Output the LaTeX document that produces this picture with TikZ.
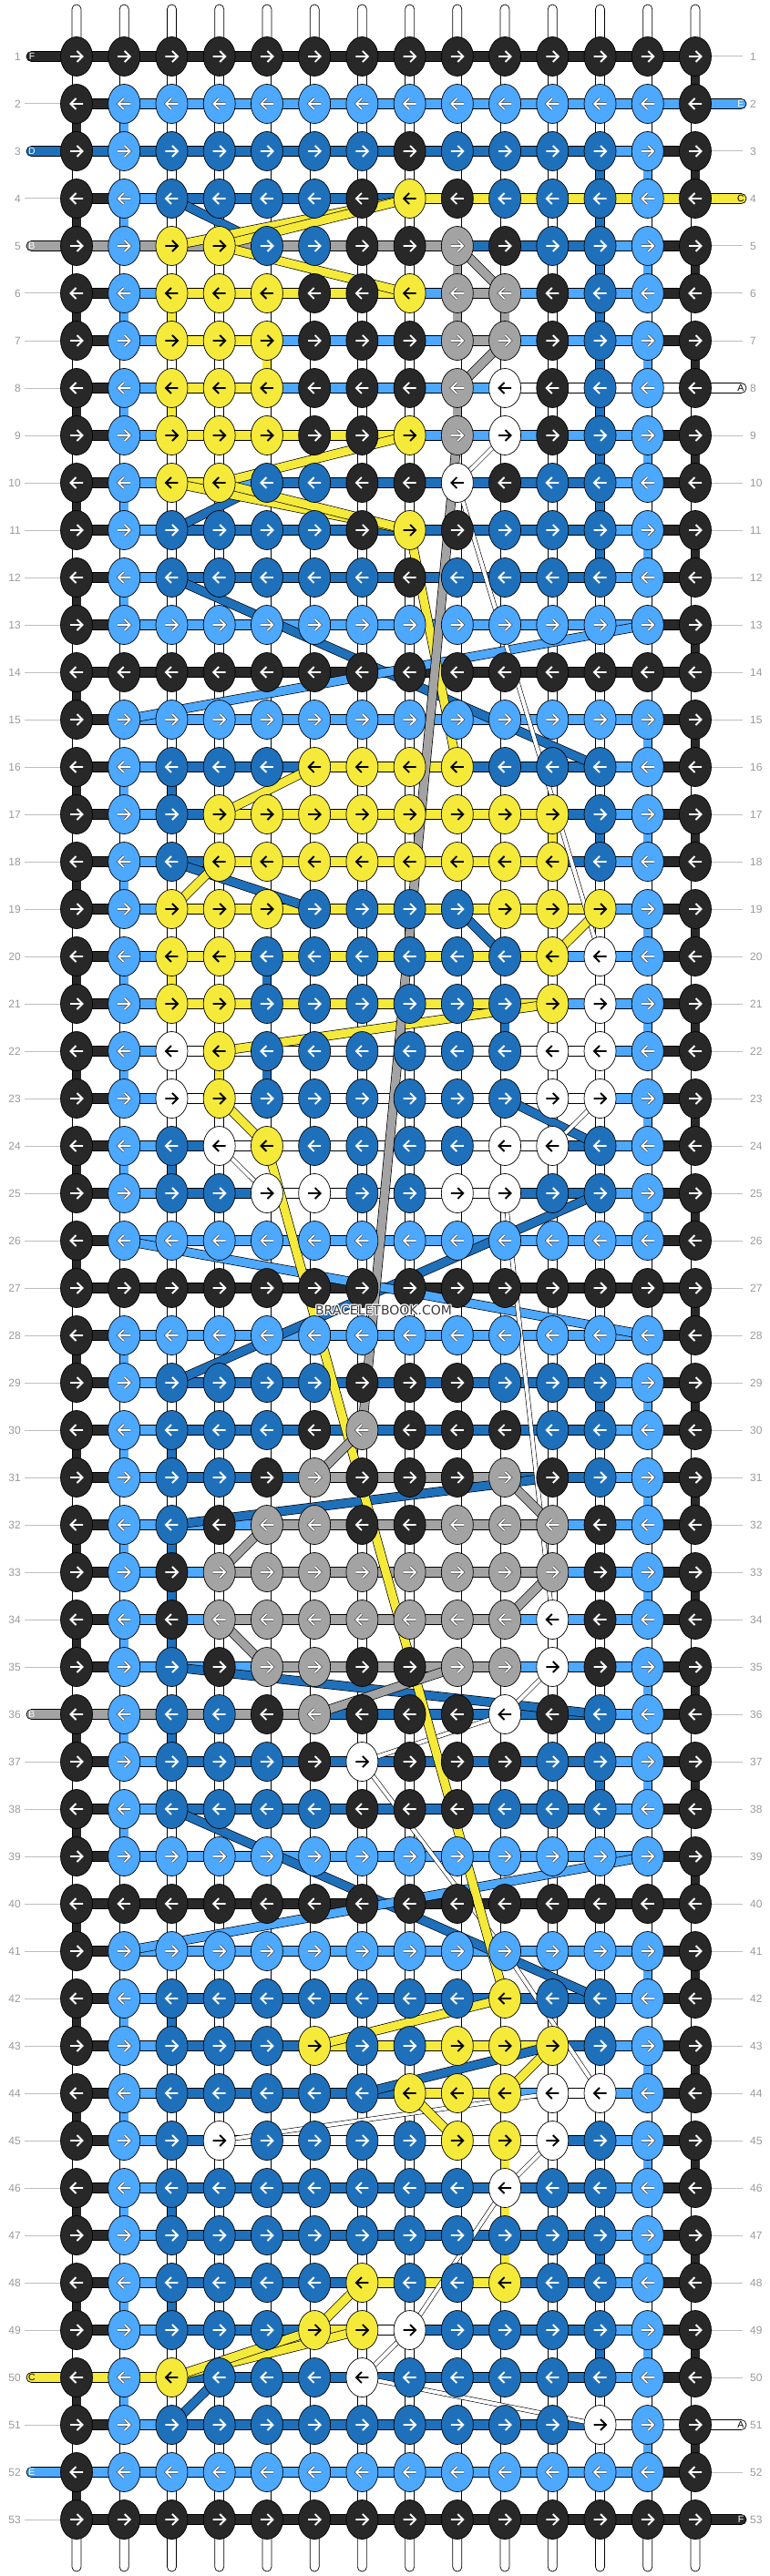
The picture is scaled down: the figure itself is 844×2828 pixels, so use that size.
\documentclass[tikz,border=0pt]{standalone}
\usepackage{fontspec}
\setmainfont{Liberation Sans}
\newfontfamily\wmfont{DejaVu Sans}
\usetikzlibrary{shapes.geometric}
\definecolor{kK}{HTML}{282828}
\definecolor{kL}{HTML}{4DA8FF}
\definecolor{kD}{HTML}{1F70BA}
\definecolor{kY}{HTML}{F5EA3A}
\definecolor{kG}{HTML}{A3A3A3}
\definecolor{kW}{HTML}{FFFFFF}
\definecolor{numgray}{HTML}{9A9A9A}
\definecolor{linegray}{HTML}{BEBEBE}
\definecolor{wmgray}{HTML}{3A3A3A}
\def\rowdata{
1/{K,K,K,K,K,K,K,K,K,K,K,K,K,K}/{K,K,K,K,K,K,K,K,K,K,K,K,K},
2/{K,L,L,L,L,L,L,L,L,L,L,L,L,K}/{K,L,L,L,L,L,L,L,L,L,L,L,L},
3/{K,L,D,D,D,D,D,K,D,D,D,D,L,K}/{D,D,D,D,D,D,D,D,D,D,D,L,K},
4/{K,L,D,D,D,D,K,Y,K,D,D,D,L,K}/{K,L,D,D,D,D,D,Y,Y,Y,Y,Y,Y},
5/{K,L,Y,Y,D,D,K,K,G,K,D,D,L,K}/{G,G,G,G,G,G,G,G,D,D,D,L,K},
6/{K,L,Y,Y,Y,K,K,Y,G,G,K,D,L,K}/{K,L,Y,Y,Y,Y,Y,L,G,L,L,L,K},
7/{K,L,Y,Y,Y,K,K,K,G,G,K,D,L,K}/{K,L,Y,Y,L,L,L,L,G,L,L,L,K},
8/{K,L,Y,Y,Y,K,K,K,G,W,K,D,L,K}/{K,L,Y,Y,L,L,L,L,L,W,W,W,W},
9/{K,L,Y,Y,Y,K,K,Y,G,W,K,D,L,K}/{K,L,Y,Y,Y,Y,Y,L,L,L,L,L,K},
10/{K,L,Y,Y,D,D,K,K,W,K,D,D,L,K}/{K,L,Y,L,D,D,D,D,D,D,D,L,K},
11/{K,L,D,D,D,D,K,Y,K,D,D,D,L,K}/{K,L,D,D,D,D,D,D,D,D,D,L,K},
12/{K,L,D,D,D,D,D,K,D,D,D,D,L,K}/{K,L,D,D,D,D,D,D,D,D,D,L,K},
13/{K,L,L,L,L,L,L,L,L,L,L,L,L,K}/{K,L,L,L,L,L,L,L,L,L,L,L,K},
14/{K,K,K,K,K,K,K,K,K,K,K,K,K,K}/{K,K,K,K,K,K,K,K,K,K,K,K,K},
15/{K,L,L,L,L,L,L,L,L,L,L,L,L,K}/{K,L,L,L,L,L,L,L,L,L,L,L,K},
16/{K,L,D,D,D,Y,Y,Y,Y,D,D,D,L,K}/{K,L,D,D,D,Y,Y,Y,D,D,D,L,K},
17/{K,L,D,Y,Y,Y,Y,Y,Y,Y,Y,D,L,K}/{K,L,D,Y,Y,Y,Y,Y,Y,Y,D,L,K},
18/{K,L,D,Y,Y,Y,Y,Y,Y,Y,Y,D,L,K}/{K,L,D,Y,Y,Y,Y,Y,Y,Y,D,L,K},
19/{K,L,Y,Y,Y,D,D,D,D,Y,Y,Y,L,K}/{K,L,Y,Y,Y,Y,Y,Y,Y,Y,Y,L,K},
20/{K,L,Y,Y,D,D,D,D,D,D,Y,W,L,K}/{K,L,Y,Y,Y,Y,Y,Y,Y,Y,L,L,K},
21/{K,L,Y,Y,D,D,D,D,D,D,Y,W,L,K}/{K,L,Y,Y,Y,Y,Y,Y,Y,Y,L,L,K},
22/{K,L,W,Y,D,D,D,D,D,D,W,W,L,K}/{K,L,W,W,W,W,W,W,W,W,W,L,K},
23/{K,L,W,Y,D,D,D,D,D,D,W,W,L,K}/{K,L,W,W,W,W,W,W,W,W,W,L,K},
24/{K,L,D,W,Y,D,D,D,D,W,W,D,L,K}/{K,L,D,W,W,W,W,W,W,W,D,L,K},
25/{K,L,D,D,W,W,D,D,W,W,D,D,L,K}/{K,L,D,D,W,W,W,W,W,D,D,L,K},
26/{K,L,L,L,L,L,L,L,L,L,L,L,L,K}/{K,L,L,L,L,L,L,L,L,L,L,L,K},
27/{K,K,K,K,K,K,K,K,K,K,K,K,K,K}/{K,K,K,K,K,K,K,K,K,K,K,K,K},
28/{K,L,L,L,L,L,L,L,L,L,L,L,L,K}/{K,L,L,L,L,L,L,L,L,L,L,L,K},
29/{K,L,D,D,D,D,K,K,K,D,D,D,L,K}/{K,L,D,D,D,D,D,D,D,D,D,L,K},
30/{K,L,D,D,D,K,G,K,K,K,D,D,L,K}/{K,L,D,D,D,D,D,D,D,D,D,L,K},
31/{K,L,D,D,K,G,K,K,K,G,K,D,L,K}/{K,L,D,D,D,G,G,G,G,D,D,L,K},
32/{K,L,D,K,G,G,K,K,G,G,G,K,L,K}/{K,L,L,L,G,G,G,G,G,G,L,L,K},
33/{K,L,K,G,G,G,G,G,G,G,G,K,L,K}/{K,L,L,G,G,G,G,G,G,G,L,L,K},
34/{K,L,K,G,G,G,G,G,G,G,W,K,L,K}/{K,L,L,G,G,G,G,G,G,L,L,L,K},
35/{K,L,D,K,G,G,K,K,G,G,W,K,L,K}/{K,L,L,L,G,G,G,G,G,L,L,L,K},
36/{K,L,D,D,K,G,K,K,K,W,K,D,L,K}/{G,G,G,G,G,D,D,D,D,D,D,L,K},
37/{K,L,D,D,D,K,W,K,K,K,D,D,L,K}/{K,L,D,D,D,D,D,D,D,D,D,L,K},
38/{K,L,D,D,D,D,K,K,K,D,D,D,L,K}/{K,L,D,D,D,D,D,D,D,D,D,L,K},
39/{K,L,L,L,L,L,L,L,L,L,L,L,L,K}/{K,L,L,L,L,L,L,L,L,L,L,L,K},
40/{K,K,K,K,K,K,K,K,K,K,K,K,K,K}/{K,K,K,K,K,K,K,K,K,K,K,K,K},
41/{K,L,L,L,L,L,L,L,L,L,L,L,L,K}/{K,L,L,L,L,L,L,L,L,L,L,L,K},
42/{K,L,D,D,D,D,D,D,D,Y,D,D,L,K}/{K,L,D,D,D,D,D,D,D,D,D,L,K},
43/{K,L,D,D,D,Y,D,D,Y,Y,Y,D,L,K}/{K,L,D,D,D,Y,Y,Y,Y,Y,D,L,K},
44/{K,L,D,D,D,D,D,Y,Y,Y,W,W,L,K}/{K,L,D,D,D,D,D,Y,Y,L,W,L,K},
45/{K,L,D,W,D,D,D,D,Y,Y,W,D,L,K}/{K,L,D,W,W,W,W,W,W,W,D,L,K},
46/{K,L,D,D,D,D,D,D,D,W,D,D,L,K}/{K,L,D,D,D,D,D,D,D,D,D,L,K},
47/{K,L,D,D,D,D,D,D,D,D,D,D,L,K}/{K,L,D,D,D,D,D,D,D,D,D,L,K},
48/{K,L,D,D,D,D,Y,D,D,Y,D,D,L,K}/{K,L,D,D,D,D,Y,Y,Y,D,D,L,K},
49/{K,L,D,D,D,Y,Y,W,D,D,D,D,L,K}/{K,L,D,D,D,Y,W,D,D,D,D,L,K},
50/{K,L,Y,D,D,D,W,D,D,D,D,D,L,K}/{Y,Y,D,D,D,D,D,D,D,D,D,L,K},
51/{K,L,D,D,D,D,D,D,D,D,D,W,L,K}/{K,L,D,D,D,D,D,D,D,D,D,W,W},
52/{K,L,L,L,L,L,L,L,L,L,L,L,L,K}/{L,L,L,L,L,L,L,L,L,L,L,L,K},
53/{K,K,K,K,K,K,K,K,K,K,K,K,K,K}/{K,K,K,K,K,K,K,K,K,K,K,K,K}}
\tikzset{
 knot/.style={ellipse, draw=black, line width=0.7, minimum width=35, minimum height=43, inner sep=0pt},
 hbar/.style={draw=black, line width=0.7, double distance=10.5},
 vbar/.style={draw=black, line width=0.7, double distance=9},
 dstrand/.style={draw=black, line width=0.7, double distance=9},
 wstrand/.style={draw=black, line width=0.6, double=white, double distance=4},
 arrK/.style={white, line width=1.9},
 arrD/.style={white, line width=1.9},
 arrL/.style={white, line width=1.6, preaction={draw=black!70, line width=3.0}},
 arrG/.style={white, line width=1.6, preaction={draw=black!70, line width=3.0}},
 arrY/.style={black, line width=1.9},
 arrW/.style={black, line width=1.9},
 gline/.style={linegray, line width=1},
 numlab/.style={text=numgray, font=\fontsize{12}{14}\selectfont, inner sep=0pt},
 stublab/.style={font=\fontsize{10.5}{12}\selectfont, inner sep=0pt},
 wm/.style={font=\wmfont\fontsize{14}{16}\selectfont, inner sep=0pt}
}
\begin{document}
\begin{tikzpicture}[x=1pt,y=1pt]
\useasboundingbox (0,0) rectangle (844,-2828);
\fill[white] (0,0) rectangle (844,-2828);
% coordinates
\foreach \r/\kn/\sg in \rowdata {
  \pgfmathsetmacro\yy{-(62+52*(\r-1))}
  \foreach \c [count=\i] in \kn {
    \pgfmathsetmacro\xx{84+52.23*(\i-1)}
    \coordinate (p\r-\i) at (\xx,\yy);
  }
}
% vertical base segments
\foreach \r in {1,...,52} {
  \pgfmathtruncatemacro\rr{\r+1}
  \foreach \i in {1,...,14} {
    \draw[vbar, double=white] (p\r-\i) -- (p\rr-\i);
  }
}
\foreach \r in {2,4,...,52} {\pgfmathtruncatemacro\rr{\r+1} \draw[vbar, double=kK] (p\r-1) -- (p\rr-1);}
\foreach \r in {1,3,...,51} {\pgfmathtruncatemacro\rr{\r+1} \draw[vbar, double=kK] (p\r-14) -- (p\rr-14);}
\foreach \r in {2,4,...,12,16,18,...,24,28,30,...,38,42,44,...,50} {\pgfmathtruncatemacro\rr{\r+1} \draw[vbar, double=kL] (p\r-2) -- (p\rr-2);}
\foreach \r in {3,5,...,11,15,17,...,25,29,31,...,37,41,43,...,51} {\pgfmathtruncatemacro\rr{\r+1} \draw[vbar, double=kL] (p\r-13) -- (p\rr-13);}
\foreach \r/\i/\cc in {3/12/D,4/12/D,5/12/D,6/12/D,7/12/D,8/12/D,9/12/D,10/12/D,11/12/D,17/12/D,29/12/D,37/12/D,47/12/D,49/12/D,
 6/3/Y,8/3/Y,20/3/Y,16/3/D,24/3/D,30/3/D,32/3/D,33/3/D,34/3/D,36/3/D,42/3/D,46/3/D,48/3/D,
 22/4/Y,7/5/Y,20/5/D,22/5/D,5/9/G,6/9/G,8/9/G,6/10/G,21/10/D,45/10/Y,46/10/Y,47/10/Y,17/11/Y} {
  \pgfmathtruncatemacro\rr{\r+1}
  \draw[vbar, double=k\cc] (p\r-\i) -- (p\rr-\i);
}
% top and bottom stubs
\foreach \i in {1,...,14} {
  \begin{scope}[shift={(p1-\i)}]
    \draw[fill=white, line width=0.7, rounded corners=4.9] (-5,0) -- (-5,57) -- (5,57) -- (5,0);
  \end{scope}
  \begin{scope}[shift={(p53-\i)}]
    \draw[fill=white, line width=0.7, rounded corners=4.9] (-5,0) -- (-5,-57) -- (5,-57) -- (5,0);
  \end{scope}
}
% horizontal segments
\foreach \r/\kn/\sg in \rowdata {
  \foreach \s [count=\i] in \sg {
    \pgfmathtruncatemacro\j{\i+1}
    \draw[hbar, double=k\s] (p\r-\i) -- (p\r-\j);
  }
}
% gray label lines and numbers
\foreach \r in {2,4,6,7,...,35,37,38,...,49,51,53} {
  \begin{scope}[shift={(p\r-1)}] \draw[gline] (-57,0) -- (-18,0); \end{scope}
}
\foreach \r in {1,3,5,6,7,9,10,...,50,52} {
  \begin{scope}[shift={(p\r-14)}] \draw[gline] (18,0) -- (52,0); \end{scope}
}
\foreach \r in {1,...,53} {
  \begin{scope}[shift={(p\r-1)}] \node[numlab, anchor=east] (nl\r) at (-61,0) {\r}; \end{scope}
  \begin{scope}[shift={(p\r-14)}] \node[numlab, anchor=west] (nr\r) at (60,0) {\r}; \end{scope}
}
% side stubs
\foreach \r/\cc/\lab/\tc in {1/K/F/white,3/D/D/white,5/G/B/white,36/G/B/white,50/Y/C/black,52/L/E/white} {
  \begin{scope}[shift={(p\r-1)}]
    \draw[fill=k\cc, line width=0.7, rounded corners=5.4] (0,5.5) -- (-55,5.5) -- (-55,-5.5) -- (0,-5.5);
    \node[stublab, text=\tc] (sl\r) at (-49,0) {\lab};
  \end{scope}
}
\foreach \r/\cc/\lab/\tc in {2/L/E/white,4/Y/C/black,8/W/A/black,51/W/A/black,53/K/F/white} {
  \begin{scope}[shift={(p\r-14)}]
    \draw[fill=k\cc, line width=0.7, rounded corners=5.4] (0,5.5) -- (56,5.5) -- (56,-5.5) -- (0,-5.5);
    \node[stublab, text=\tc] (sr\r) at (50,0) {\lab};
  \end{scope}
}
% diagonal strands
\foreach \a/\b in {4-3/5-5,11-3/10-5,12-3/16-12,18-3/19-6,19-9/20-10,23-10/24-12,25-12/29-3,31-11/32-3,35-3/36-12,38-3/42-12,44-7/43-11,51-3/50-4} {
  \draw[dstrand, double=kD] (p\a) -- (p\b);
}
\foreach \a/\b in {13-13/15-2,26-2/28-13,39-13/41-2} {
  \draw[dstrand, double=kL] (p\a) -- (p\b);
}
\foreach \a/\b in {9-10/10-9,10-9/20-12,24-4/25-5,23-12/24-11,25-10/34-11,35-11/36-10,36-10/37-7,37-7/41-10,41-10/44-12,44-11/45-4,45-11/46-10,46-10/49-8,49-8/50-7,50-7/51-12} {
  \draw[wstrand] (p\a) -- (p\b);
}
\foreach \a/\b in {4-8/5-3,4-8/5-4,5-4/6-8,9-8/10-4,10-3/11-8,10-4/11-8,11-8/16-9,16-6/17-4,18-4/19-3,19-12/20-11,21-11/22-4,23-4/24-5,24-5/42-10,42-10/43-6,43-11/44-10,44-8/45-9,48-7/49-6,49-7/50-3,49-6/50-3} {
  \draw[dstrand, double=kY] (p\a) -- (p\b);
}
\foreach \a/\b in {5-9/6-10,7-10/8-9,9-9/30-7,30-7/31-6,31-10/32-11,32-5/33-4,33-11/34-10,34-4/35-5,35-9/36-6} {
  \draw[dstrand, double=kG] (p\a) -- (p\b);
}
% knots and arrows
\foreach \r/\kn/\sg in \rowdata {
  \pgfmathsetmacro\dir{ifthenelse(mod(\r,2)==0,-1,1)}
  \foreach \c [count=\i] in \kn {
    \node[knot, fill=k\c] (n\r-\i) at (p\r-\i) {};
    \begin{scope}[shift={(p\r-\i)}, xscale=\dir]
      \draw[arr\c] (-7,0) -- (6,0) (0.5,6) -- (6.5,0) -- (0.5,-6);
    \end{scope}
  }
}
% watermark
\foreach \dx/\dy [count=\q] in {-1/0,1/0,0/-1,0/1,-1/-1,1/1,-1/1,1/-1} {
  \node[wm, text=white] (wmh\q) at (421+\dx,-1438+\dy) {BRACELETBOOK.COM};
}
\node[wm, text=wmgray] (wm) at (421,-1438) {BRACELETBOOK.COM};
\end{tikzpicture}
\end{document}
